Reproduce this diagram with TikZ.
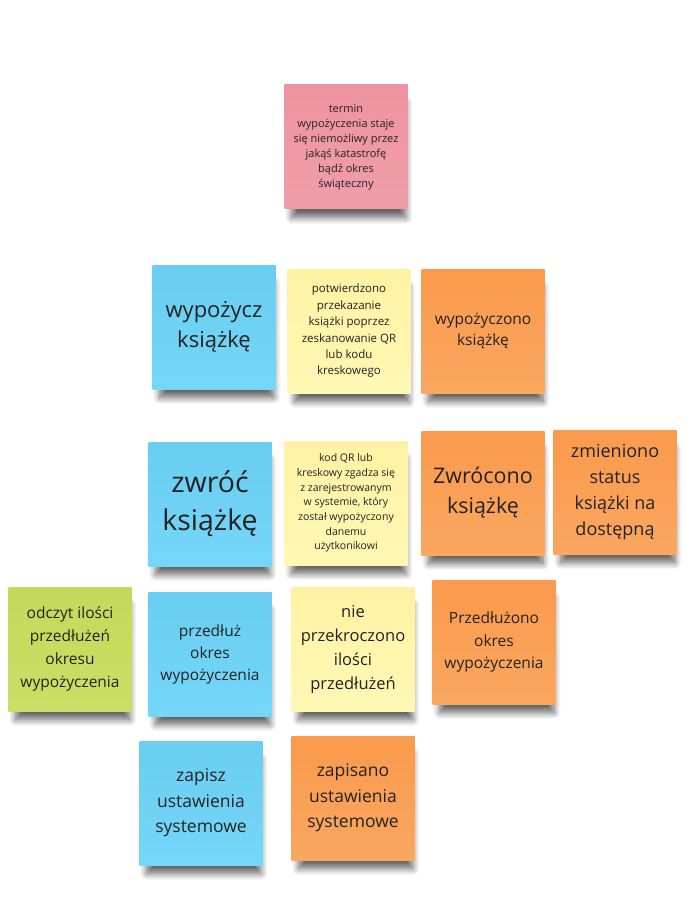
\documentclass[tikz,border=0pt]{standalone}
\usepackage{fontspec}
\setmainfont{Open Sans}
\usetikzlibrary{shadows.blur}
\definecolor{noteblue}{RGB}{108,212,248}
\definecolor{noteyellow}{RGB}{255,247,170}
\definecolor{noteorange}{RGB}{250,157,78}
\definecolor{notepink}{RGB}{238,150,162}
\definecolor{notegreen}{RGB}{200,221,92}
\definecolor{notetext}{RGB}{35,35,35}
\tikzset{
  note/.style={minimum width=123pt, minimum height=124pt, inner sep=2pt,
    align=center, text=notetext,
    blur shadow={shadow xshift=3pt, shadow yshift=-14pt, shadow scale=0.93,
      shadow opacity=60, shadow blur steps=10, shadow blur radius=7pt}},
  bluenote/.style={note, top color=noteblue!97!black, bottom color=noteblue!94!white},
  yellownote/.style={note, top color=noteyellow!96!orange, bottom color=noteyellow!88!white},
  orangenote/.style={note, top color=noteorange!98!red, bottom color=noteorange!90!white},
  pinknote/.style={note, top color=notepink!98!red, bottom color=notepink!92!white},
  greennote/.style={note, top color=notegreen!98!black, bottom color=notegreen!94!white},
}
\newcommand{\fs}[2]{\fontsize{#1}{#2}\selectfont}
\begin{document}
\begin{tikzpicture}[x=1pt, y=-1pt]
  \useasboundingbox (0,0) rectangle (694,901);
  % top
  \node[pinknote, font=\fs{11}{15}] (disaster) at (346,147)
    {termin\\wypożyczenia staje\\się niemożliwy przez\\jakąś katastrofę\\bądź okres\\świąteczny};
  % wypozyczenie
  \node[bluenote, font=\fs{22}{30}] (borrow) at (214,327) {wypożycz\\książkę};
  \node[yellownote, font=\fs{11.5}{16.4}] (scanned) at (349,331)
    {potwierdzono\\przekazanie\\książki poprzez\\zeskanowanie QR\\lub kodu\\kreskowego};
  \node[orangenote, font=\fs{15.5}{21}] (borrowed) at (483,331) {wypożyczono\\książkę};
  % zwrot
  \node[bluenote, font=\fs{28.5}{38}] (return) at (210,504) {zwróć\\książkę};
  \node[yellownote, font=\fs{10.5}{14.7}] (codematch) at (346,503)
    {kod QR lub\\kreskowy zgadza się\\z zarejestrowanym\\w systemie, który\\został wypożyczony\\danemu\\użytkonikowi};
  \node[orangenote, font=\fs{21.5}{30}] (returned) at (483,493) {Zwrócono\\książkę};
  \node[orangenote, font=\fs{18}{26}] (status) at (615,492)
    {zmieniono\\status\\książki na\\dostępną};
  % przedluzenie
  \node[greennote, font=\fs{15.5}{23}] (count) at (70,649)
    {odczyt ilości\\przedłużeń\\okresu\\wypożyczenia};
  \node[bluenote, font=\fs{15.5}{22}] (extend) at (210,654) {przedłuż\\okres\\wypożyczenia};
  \node[yellownote, font=\fs{16.5}{24}] (limit) at (353,649)
    {nie\\przekroczono\\ilości\\przedłużeń};
  \node[orangenote, font=\fs{15.5}{22.5}] (extended) at (494,642)
    {Przedłużono\\okres\\wypożyczenia};
  % ustawienia
  \node[bluenote, font=\fs{17.5}{25.5}] (save) at (201,803)
    {zapisz\\ustawienia\\systemowe};
  \node[orangenote, font=\fs{17.5}{25.5}] (saved) at (353,798)
    {zapisano\\ustawienia\\systemowe};
\end{tikzpicture}
\end{document}
